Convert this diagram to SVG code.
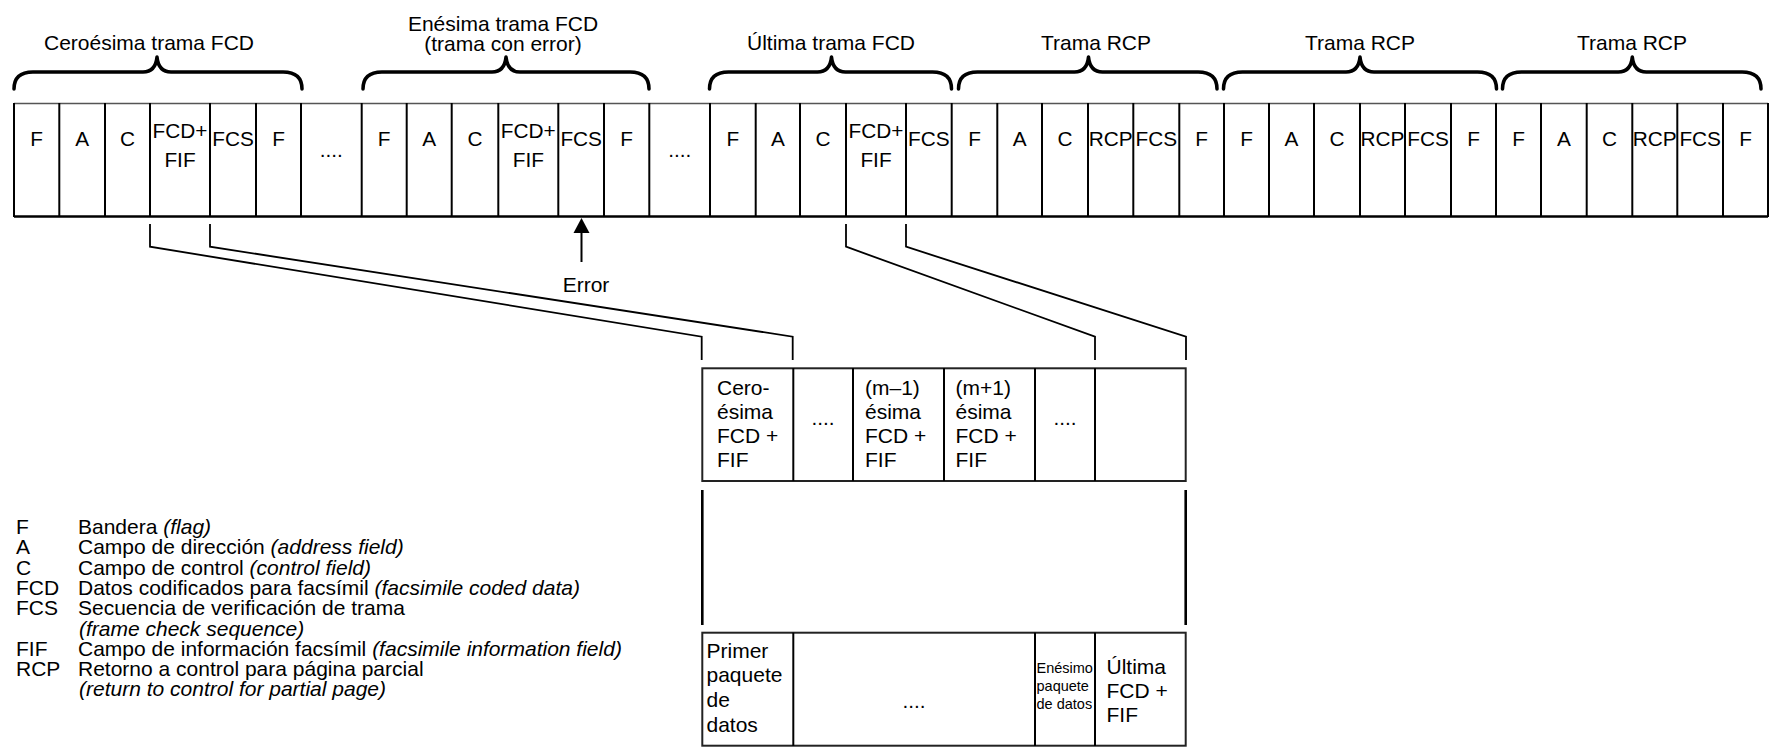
<svg xmlns="http://www.w3.org/2000/svg" width="1769" height="747" viewBox="0 0 1769 747">
<style>
text{font-family:"Liberation Sans",Arial,Helvetica,sans-serif;fill:#000}
.lbl{font-size:21px;text-anchor:middle}
.cell{font-size:20.8px;text-anchor:middle}
.box{font-size:21px}
.small{font-size:14.5px}
.leg{font-size:21px}
.it{font-style:italic}
.v{stroke:#000;stroke-width:2}
.brace{fill:none;stroke:#000;stroke-width:3.5;stroke-linecap:round;stroke-linejoin:round}
.conn{fill:none;stroke:#000;stroke-width:1.8}
</style>
<rect width="1769" height="747" fill="#fff"/>

<g id="labels">
<text class="lbl" x="149" y="50">Ceroésima trama FCD</text>
<text class="lbl" x="503" y="30.5">Enésima trama FCD</text>
<text class="lbl" x="503" y="50.5">(trama con error)</text>
<text class="lbl" x="831" y="50">Última trama FCD</text>
<text class="lbl" x="1096" y="50">Trama RCP</text>
<text class="lbl" x="1360" y="50">Trama RCP</text>
<text class="lbl" x="1632" y="50">Trama RCP</text>
</g>

<g id="braces">
<path class="brace" d="M14 89 Q14 72 33 72 L143 72 C151 72 156 67 157 57 C158 67 163 72 171 72 L283 72 Q302 72 302 89"/>
<path class="brace" d="M363 89 Q363 72 382 72 L492 72 C500 72 505 67 506 57 C507 67 512 72 520 72 L630 72 Q649 72 649 89"/>
<path class="brace" d="M709.5 89 Q709.5 72 728.5 72 L817.5 72 C825.5 72 830.5 67 831.5 57 C832.5 67 837.5 72 845.5 72 L932.5 72 Q951.5 72 951.5 89"/>
<path class="brace" d="M958.5 89 Q958.5 72 977.5 72 L1074.5 72 C1082.5 72 1087.5 67 1088.5 57 C1089.5 67 1094.5 72 1102.5 72 L1198 72 Q1217 72 1217 89"/>
<path class="brace" d="M1223.5 89 Q1223.5 72 1242.5 72 L1346 72 C1354 72 1359 67 1360 57 C1361 67 1366 72 1374 72 L1477.5 72 Q1496.5 72 1496.5 89"/>
<path class="brace" d="M1502.5 89 Q1502.5 72 1521.5 72 L1618.3 72 C1626.3 72 1631.3 67 1632.3 57 C1633.3 67 1638.3 72 1646.3 72 L1742 72 Q1761 72 1761 89"/>
</g>

<g id="strip">
<line x1="14" y1="103.5" x2="1768" y2="103.5" stroke="#555" stroke-width="1.6"/>
<line x1="14" y1="216.5" x2="1768" y2="216.5" stroke="#000" stroke-width="2.5"/>
<g class="v">
<line x1="14" y1="103" x2="14" y2="217"/><line x1="59.3" y1="103" x2="59.3" y2="217"/><line x1="105" y1="103" x2="105" y2="217"/><line x1="150" y1="103" x2="150" y2="217"/><line x1="210" y1="103" x2="210" y2="217"/><line x1="256" y1="103" x2="256" y2="217"/><line x1="301" y1="103" x2="301" y2="217"/><line x1="361.7" y1="103" x2="361.7" y2="217"/><line x1="406.7" y1="103" x2="406.7" y2="217"/><line x1="451.7" y1="103" x2="451.7" y2="217"/><line x1="498.3" y1="103" x2="498.3" y2="217"/><line x1="558.3" y1="103" x2="558.3" y2="217"/><line x1="604" y1="103" x2="604" y2="217"/><line x1="649.3" y1="103" x2="649.3" y2="217"/><line x1="710" y1="103" x2="710" y2="217"/><line x1="755.7" y1="103" x2="755.7" y2="217"/><line x1="800" y1="103" x2="800" y2="217"/><line x1="846" y1="103" x2="846" y2="217"/><line x1="906" y1="103" x2="906" y2="217"/><line x1="951.7" y1="103" x2="951.7" y2="217"/><line x1="997.3" y1="103" x2="997.3" y2="217"/><line x1="1042" y1="103" x2="1042" y2="217"/><line x1="1088" y1="103" x2="1088" y2="217"/><line x1="1133.3" y1="103" x2="1133.3" y2="217"/><line x1="1179.3" y1="103" x2="1179.3" y2="217"/><line x1="1224" y1="103" x2="1224" y2="217"/><line x1="1269" y1="103" x2="1269" y2="217"/><line x1="1314" y1="103" x2="1314" y2="217"/><line x1="1360" y1="103" x2="1360" y2="217"/><line x1="1405" y1="103" x2="1405" y2="217"/><line x1="1451" y1="103" x2="1451" y2="217"/><line x1="1496" y1="103" x2="1496" y2="217"/><line x1="1541" y1="103" x2="1541" y2="217"/><line x1="1586.7" y1="103" x2="1586.7" y2="217"/><line x1="1632.3" y1="103" x2="1632.3" y2="217"/><line x1="1677.3" y1="103" x2="1677.3" y2="217"/><line x1="1723" y1="103" x2="1723" y2="217"/><line x1="1768" y1="103" x2="1768" y2="217"/>
</g>
<g class="cell-text">
<text class="cell" x="36.7" y="145.5">F</text>
<text class="cell" x="82.2" y="145.5">A</text>
<text class="cell" x="127.5" y="145.5">C</text>
<text class="cell" x="180" y="137.5">FCD+</text><text class="cell" x="180" y="166.5">FIF</text>
<text class="cell" x="233" y="145.5">FCS</text>
<text class="cell" x="278.5" y="145.5">F</text>
<text class="cell" x="331.3" y="157">....</text>
<text class="cell" x="384.2" y="145.5">F</text>
<text class="cell" x="429.2" y="145.5">A</text>
<text class="cell" x="475" y="145.5">C</text>
<text class="cell" x="528.3" y="137.5">FCD+</text><text class="cell" x="528.3" y="166.5">FIF</text>
<text class="cell" x="581.2" y="145.5">FCS</text>
<text class="cell" x="626.7" y="145.5">F</text>
<text class="cell" x="679.7" y="157">....</text>
<text class="cell" x="732.9" y="145.5">F</text>
<text class="cell" x="777.9" y="145.5">A</text>
<text class="cell" x="823" y="145.5">C</text>
<text class="cell" x="876" y="137.5">FCD+</text><text class="cell" x="876" y="166.5">FIF</text>
<text class="cell" x="928.9" y="145.5">FCS</text>
<text class="cell" x="974.5" y="145.5">F</text>
<text class="cell" x="1019.7" y="145.5">A</text>
<text class="cell" x="1065" y="145.5">C</text>
<text class="cell" x="1110.7" y="145.5">RCP</text>
<text class="cell" x="1156.3" y="145.5">FCS</text>
<text class="cell" x="1201.7" y="145.5">F</text>
<text class="cell" x="1246.5" y="145.5">F</text>
<text class="cell" x="1291.5" y="145.5">A</text>
<text class="cell" x="1337" y="145.5">C</text>
<text class="cell" x="1382.5" y="145.5">RCP</text>
<text class="cell" x="1428" y="145.5">FCS</text>
<text class="cell" x="1473.5" y="145.5">F</text>
<text class="cell" x="1518.5" y="145.5">F</text>
<text class="cell" x="1563.9" y="145.5">A</text>
<text class="cell" x="1609.5" y="145.5">C</text>
<text class="cell" x="1654.8" y="145.5">RCP</text>
<text class="cell" x="1700.2" y="145.5">FCS</text>
<text class="cell" x="1745.5" y="145.5">F</text>
</g>
</g>

<g id="error">
<line x1="581.5" y1="231" x2="581.5" y2="262" stroke="#000" stroke-width="2"/>
<polygon points="581.5,218 573.5,233 589.5,233" fill="#000"/>
<text class="lbl" x="586" y="291.5">Error</text>
</g>

<g id="connectors">
<polyline class="conn" points="150,224 150,246.7 701.7,336.7 701.7,360"/>
<polyline class="conn" points="210,224 210,246.7 792.7,336.7 792.7,360"/>
<polyline class="conn" points="846,224 846,246.7 1095,336.7 1095,360"/>
<polyline class="conn" points="906,224 906,246.7 1186,336.7 1186,360"/>
</g>

<g id="packet-top">
<rect x="702.3" y="368.3" width="483.4" height="112.7" fill="none" stroke="#222" stroke-width="2"/>
<g class="v">
<line x1="793.3" y1="368" x2="793.3" y2="481"/><line x1="853" y1="368" x2="853" y2="481"/><line x1="944" y1="368" x2="944" y2="481"/><line x1="1035" y1="368" x2="1035" y2="481"/><line x1="1095" y1="368" x2="1095" y2="481"/>
</g>
<text class="box" x="717" y="395">Cero-</text><text class="box" x="717" y="418.5">ésima</text><text class="box" x="717" y="442.5">FCD +</text><text class="box" x="717" y="466.5">FIF</text>
<text class="cell" x="823" y="425">....</text>
<text class="box" x="865" y="395">(m–1)</text><text class="box" x="865" y="418.5">ésima</text><text class="box" x="865" y="442.5">FCD +</text><text class="box" x="865" y="466.5">FIF</text>
<text class="box" x="955.5" y="395">(m+1)</text><text class="box" x="955.5" y="418.5">ésima</text><text class="box" x="955.5" y="442.5">FCD +</text><text class="box" x="955.5" y="466.5">FIF</text>
<text class="cell" x="1065" y="425">....</text>
</g>

<g id="packet-middle">
<line x1="702.3" y1="490" x2="702.3" y2="625" stroke="#000" stroke-width="2.6"/>
<line x1="1185.7" y1="490" x2="1185.7" y2="625" stroke="#000" stroke-width="2.6"/>
</g>

<g id="packet-bottom">
<rect x="702.3" y="632.7" width="483.4" height="113" fill="none" stroke="#222" stroke-width="2"/>
<g class="v">
<line x1="793.3" y1="632.7" x2="793.3" y2="746"/><line x1="1035" y1="632.7" x2="1035" y2="746"/><line x1="1095" y1="632.7" x2="1095" y2="746"/>
</g>
<text class="box" x="706.5" y="658">Primer</text><text class="box" x="706.5" y="682">paquete</text><text class="box" x="706.5" y="707">de</text><text class="box" x="706.5" y="731.5">datos</text>
<text class="cell" x="914" y="708">....</text>
<text class="small" x="1036.5" y="673">Enésimo</text><text class="small" x="1036.5" y="691">paquete</text><text class="small" x="1036.5" y="709">de datos</text>
<text class="box" x="1106.5" y="673.5">Última</text><text class="box" x="1106.5" y="698">FCD +</text><text class="box" x="1106.5" y="722">FIF</text>
</g>

<g id="legend" class="leg">
<text class="leg" x="16" y="534">F</text><text class="leg" x="78" y="534">Bandera <tspan class="it">(flag)</tspan></text>
<text class="leg" x="16" y="554.3">A</text><text class="leg" x="78" y="554.3">Campo de dirección <tspan class="it">(address field)</tspan></text>
<text class="leg" x="16" y="574.6">C</text><text class="leg" x="78" y="574.6">Campo de control <tspan class="it">(control field)</tspan></text>
<text class="leg" x="16" y="594.9">FCD</text><text class="leg" x="78" y="594.9">Datos codificados para facsímil <tspan class="it">(facsimile coded data)</tspan></text>
<text class="leg" x="16" y="615.2">FCS</text><text class="leg" x="78" y="615.2">Secuencia de verificación de trama</text>
<text class="leg it" x="79" y="635.5">(frame check sequence)</text>
<text class="leg" x="16" y="655.8">FIF</text><text class="leg" x="78" y="655.8">Campo de información facsímil <tspan class="it">(facsimile information field)</tspan></text>
<text class="leg" x="16" y="676.1">RCP</text><text class="leg" x="78" y="676.1">Retorno a control para página parcial</text>
<text class="leg it" x="79" y="696.4">(return to control for partial page)</text>
</g>
</svg>
